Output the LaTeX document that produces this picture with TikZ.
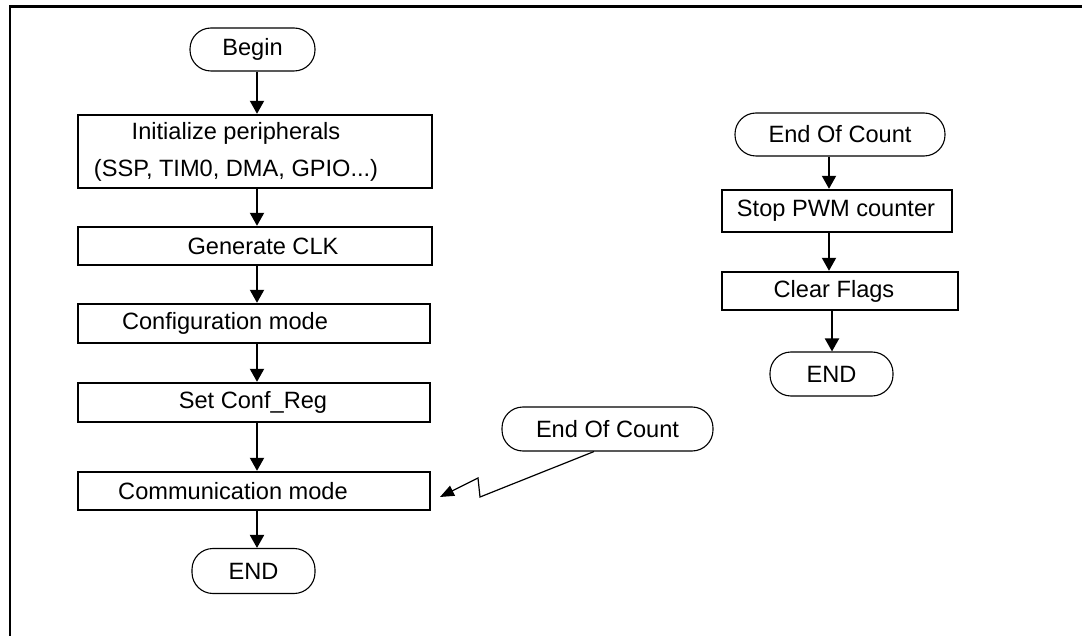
\documentclass[tikz,border=0pt]{standalone}
\usepackage{fontspec}
\setmainfont{Liberation Sans}
\usetikzlibrary{arrows.meta}
\begin{document}
\begin{tikzpicture}[x=1pt,y=-1pt,
  every node/.style={font=\fontsize{23.6}{37}\selectfont, inner sep=0pt},
  stadium/.style={draw, line width=1.1pt, rounded corners=21pt, minimum height=43pt},
  procbox/.style={draw, line width=2.4pt, minimum height=38pt},
  lbl/.style={anchor=center, align=center},
  arr/.style={line width=2pt, -{Triangle[length=13pt,width=14pt]}},
  zig/.style={line width=1.2pt, -{Triangle[length=14pt,width=11pt]}},
  frame/.style={line width=2.2pt}]
\useasboundingbox (0,0) rectangle (1082,636);
% frame
\coordinate (fbl) at (10,636);
\coordinate (ftl) at (10,6.5);
\coordinate (ftr) at (1082,6.5);
\draw[frame] (fbl) -- (ftl) -- (ftr);

% left column
\node[stadium, minimum width=125pt] (begin) at (252.5,49.5) {Begin};
\node[procbox, minimum width=354pt, minimum height=73pt] (init) at (255,151.5) {};
\node[lbl] (tinit) at (236,152) {Initialize peripherals\\(SSP, TIM0, DMA, GPIO...)};
\node[procbox, minimum width=354pt] (gen) at (255,246) {};
\node[lbl] (tgen) at (263,246) {Generate CLK};
\node[procbox, minimum width=352pt, minimum height=39pt] (conf) at (254,323.5) {};
\node[lbl] (tconf) at (225,323.5) {Configuration mode};
\node[procbox, minimum width=352pt, minimum height=39pt] (set) at (254,402.5) {};
\node[lbl] (tset) at (253,402.5) {Set Conf\_Reg};
\node[procbox, minimum width=352pt] (comm) at (254,491) {};
\node[lbl] (tcomm) at (233,491) {Communication mode};
\node[stadium, minimum width=123pt, minimum height=45pt] (end1) at (253.5,571) {END};

\coordinate (ax) at (257,0);
\draw[arr] (begin.south -| ax) -- (init.north -| ax);
\draw[arr] (init.south -| ax) -- (gen.north -| ax);
\draw[arr] (gen.south -| ax) -- (conf.north -| ax);
\draw[arr] (conf.south -| ax) -- (set.north -| ax);
\draw[arr] (set.south -| ax) -- (comm.north -| ax);
\draw[arr] (comm.south -| ax) -- (end1.north -| ax);

% right column
\node[stadium, minimum width=210pt] (eoc) at (840,134.5) {End Of Count};
\node[procbox, minimum width=230pt, minimum height=42pt] (stop) at (837,211) {};
\node[lbl] (tstop) at (836,211) {Stop PWM counter};
\node[procbox, minimum width=236pt] (clear) at (840,291) {};
\node[lbl] (tclear) at (834,291) {Clear Flags};
\node[stadium, minimum width=123pt, minimum height=44pt] (end2) at (831.5,374) {END};

\coordinate (bx) at (829,0);
\coordinate (cx) at (832,0);
\draw[arr] (eoc.south -| bx) -- (stop.north -| bx);
\draw[arr] (stop.south -| bx) -- (clear.north -| bx);
\draw[arr] (clear.south -| cx) -- (end2.north -| cx);

% interrupt source
\node[stadium, minimum width=211pt, minimum height=44pt] (eoc2) at (607.5,429) {End Of Count};
\coordinate (dx) at (594,0);
\coordinate (z1) at (480,497);
\coordinate (z2) at (478,478);
\coordinate (ztip) at (440,497);
\draw[zig] (eoc2.south -| dx) -- (z1) -- (z2) -- (ztip);
\end{tikzpicture}
\end{document}
